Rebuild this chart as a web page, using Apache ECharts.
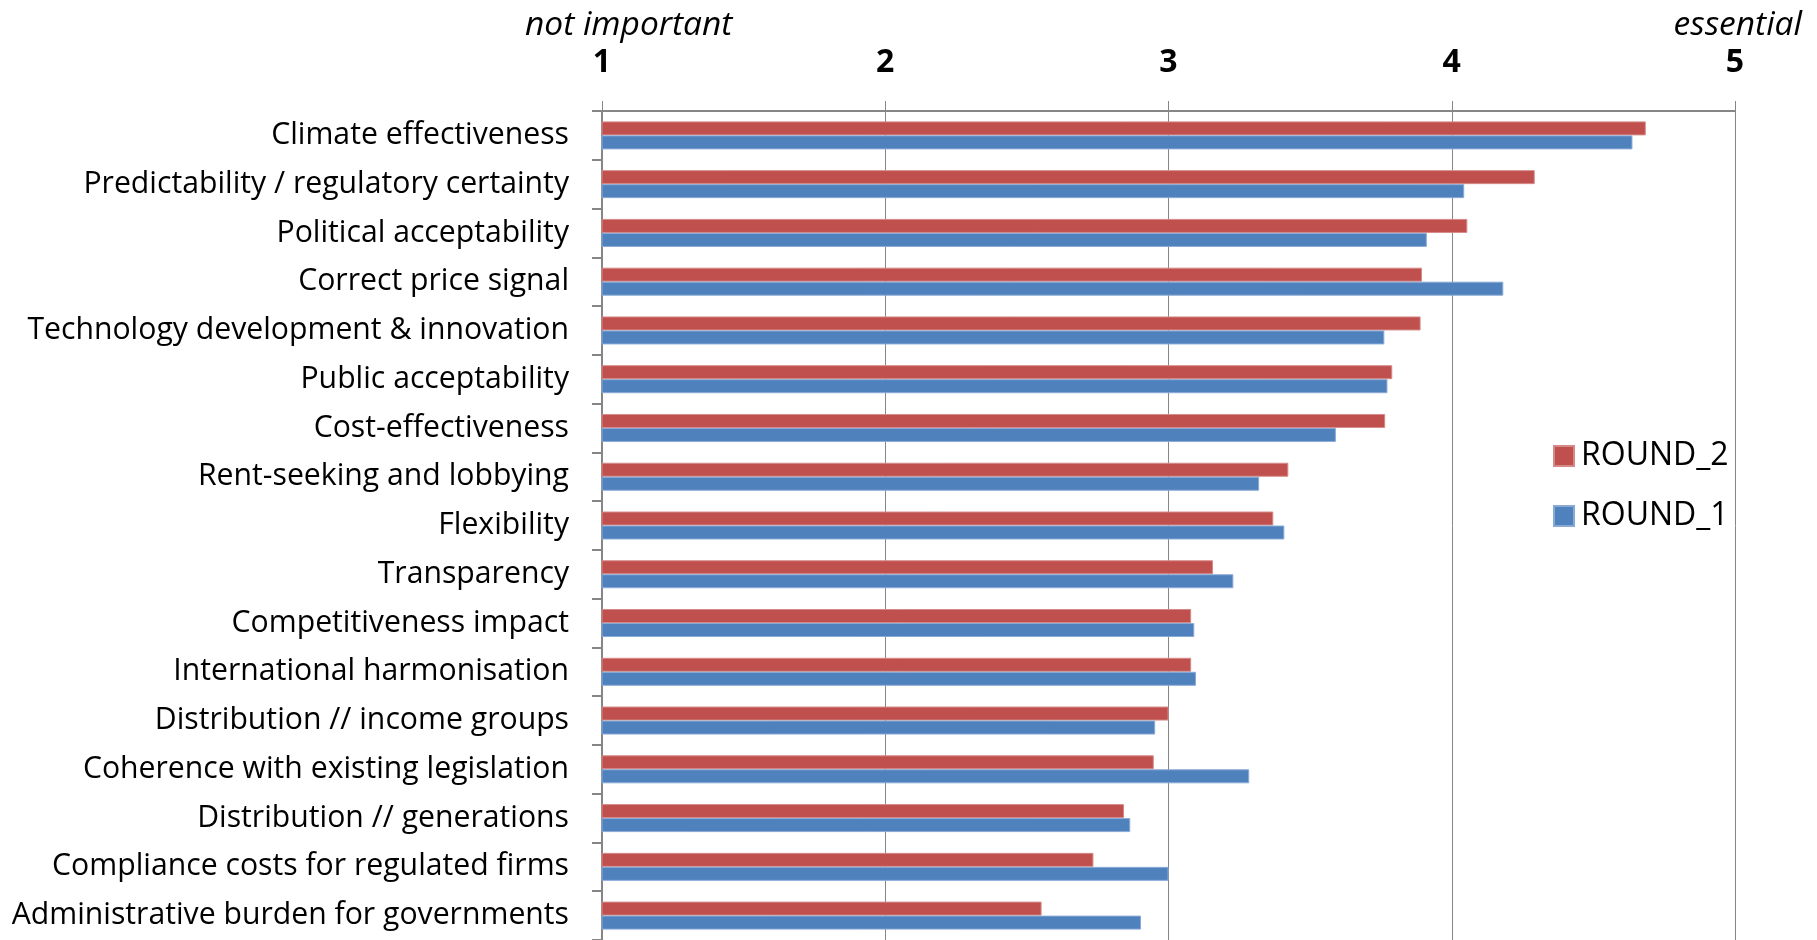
<!DOCTYPE html>
<html>
<head>
<meta charset="utf-8">
<script src="https://cdn.jsdelivr.net/npm/echarts@6/dist/echarts.min.js"></script>
<style>
  html, body { margin: 0; padding: 0; background: #fff; }
  #chart { width: 1817px; height: 940px; }
</style>
</head>
<body>
<div id="chart"></div>
<script>
const categories = [
  "Climate effectiveness",
  "Predictability / regulatory certainty",
  "Political acceptability",
  "Correct price signal",
  "Technology development & innovation",
  "Public acceptability",
  "Cost-effectiveness",
  "Rent-seeking and lobbying",
  "Flexibility",
  "Transparency",
  "Competitiveness impact",
  "International harmonisation",
  "Distribution // income groups",
  "Coherence with existing legislation",
  "Distribution // generations",
  "Compliance costs for regulated firms",
  "Administrative burden for governments"
];
const round2 = [4.685, 4.293, 4.055, 3.895, 3.890, 3.790, 3.765, 3.423, 3.370, 3.157, 3.080, 3.080, 3.000, 2.948, 2.843, 2.735, 2.552];
const round1 = [4.638, 4.044, 3.912, 4.182, 3.762, 3.773, 3.591, 3.320, 3.409, 3.229, 3.091, 3.097, 2.953, 3.285, 2.865, 3.000, 2.903];
const tickValues = [1, 2, 3, 4, 5];
const axisLow = "not important";
const axisHigh = "essential";

const FONT = "'Open Sans', Lato, sans-serif";
const chart = echarts.init(document.getElementById('chart'));
chart.setOption({
  animation: false,
  backgroundColor: '#ffffff',
  textStyle: { fontFamily: FONT },
  grid: { left: 602, right: 82, top: 111, height: 832, containLabel: false },
  legend: {
    orient: 'vertical',
    left: 1548,
    top: 435,
    itemWidth: 20,
    itemHeight: 20,
    itemGap: 28,
    icon: 'rect',
    textStyle: { fontFamily: FONT, fontSize: 32, color: '#000', padding: [0, 0, 0, 2] },
    data: ['ROUND_2', 'ROUND_1']
  },
  graphic: [
    { type: 'text', left: 525, top: 8, style: { text: axisLow, fontFamily: FONT, fontStyle: 'italic', fontSize: 33.5, fill: '#000' } },
    { type: 'text', right: 15, top: 8, style: { text: axisHigh, fontFamily: FONT, fontStyle: 'italic', fontSize: 33.5, fill: '#000' } }
  ],
  xAxis: {
    type: 'value',
    position: 'top',
    min: tickValues[0],
    max: tickValues[tickValues.length - 1],
    interval: 1,
    axisLine: { show: true, lineStyle: { color: '#868686', width: 2 } },
    axisTick: { show: true, length: 10, inside: false, lineStyle: { color: '#868686', width: 1 } },
    axisLabel: { fontFamily: FONT, fontSize: 32, fontWeight: 'bold', color: '#000', margin: 32 },
    splitLine: { show: true, lineStyle: { color: '#868686', width: 1 } }
  },
  yAxis: {
    type: 'category',
    inverse: true,
    data: categories,
    axisLine: { show: true, lineStyle: { color: '#868686', width: 2 } },
    axisTick: { show: true, length: 10, alignWithLabel: false, lineStyle: { color: '#868686', width: 2 } },
    axisLabel: { fontFamily: FONT, fontSize: 30.2, color: '#000', margin: 33 }
  },
  series: [
    {
      name: 'ROUND_2', type: 'bar', data: round2, barWidth: 14, barGap: '0%',
      itemStyle: { color: '#C0504D', borderColor: '#D58A88', borderWidth: 1 }
    },
    {
      name: 'ROUND_1', type: 'bar', data: round1, barWidth: 14, barGap: '0%',
      itemStyle: { color: '#4F81BD', borderColor: '#8AAAD6', borderWidth: 1 }
    }
  ]
});
</script>
</body>
</html>
